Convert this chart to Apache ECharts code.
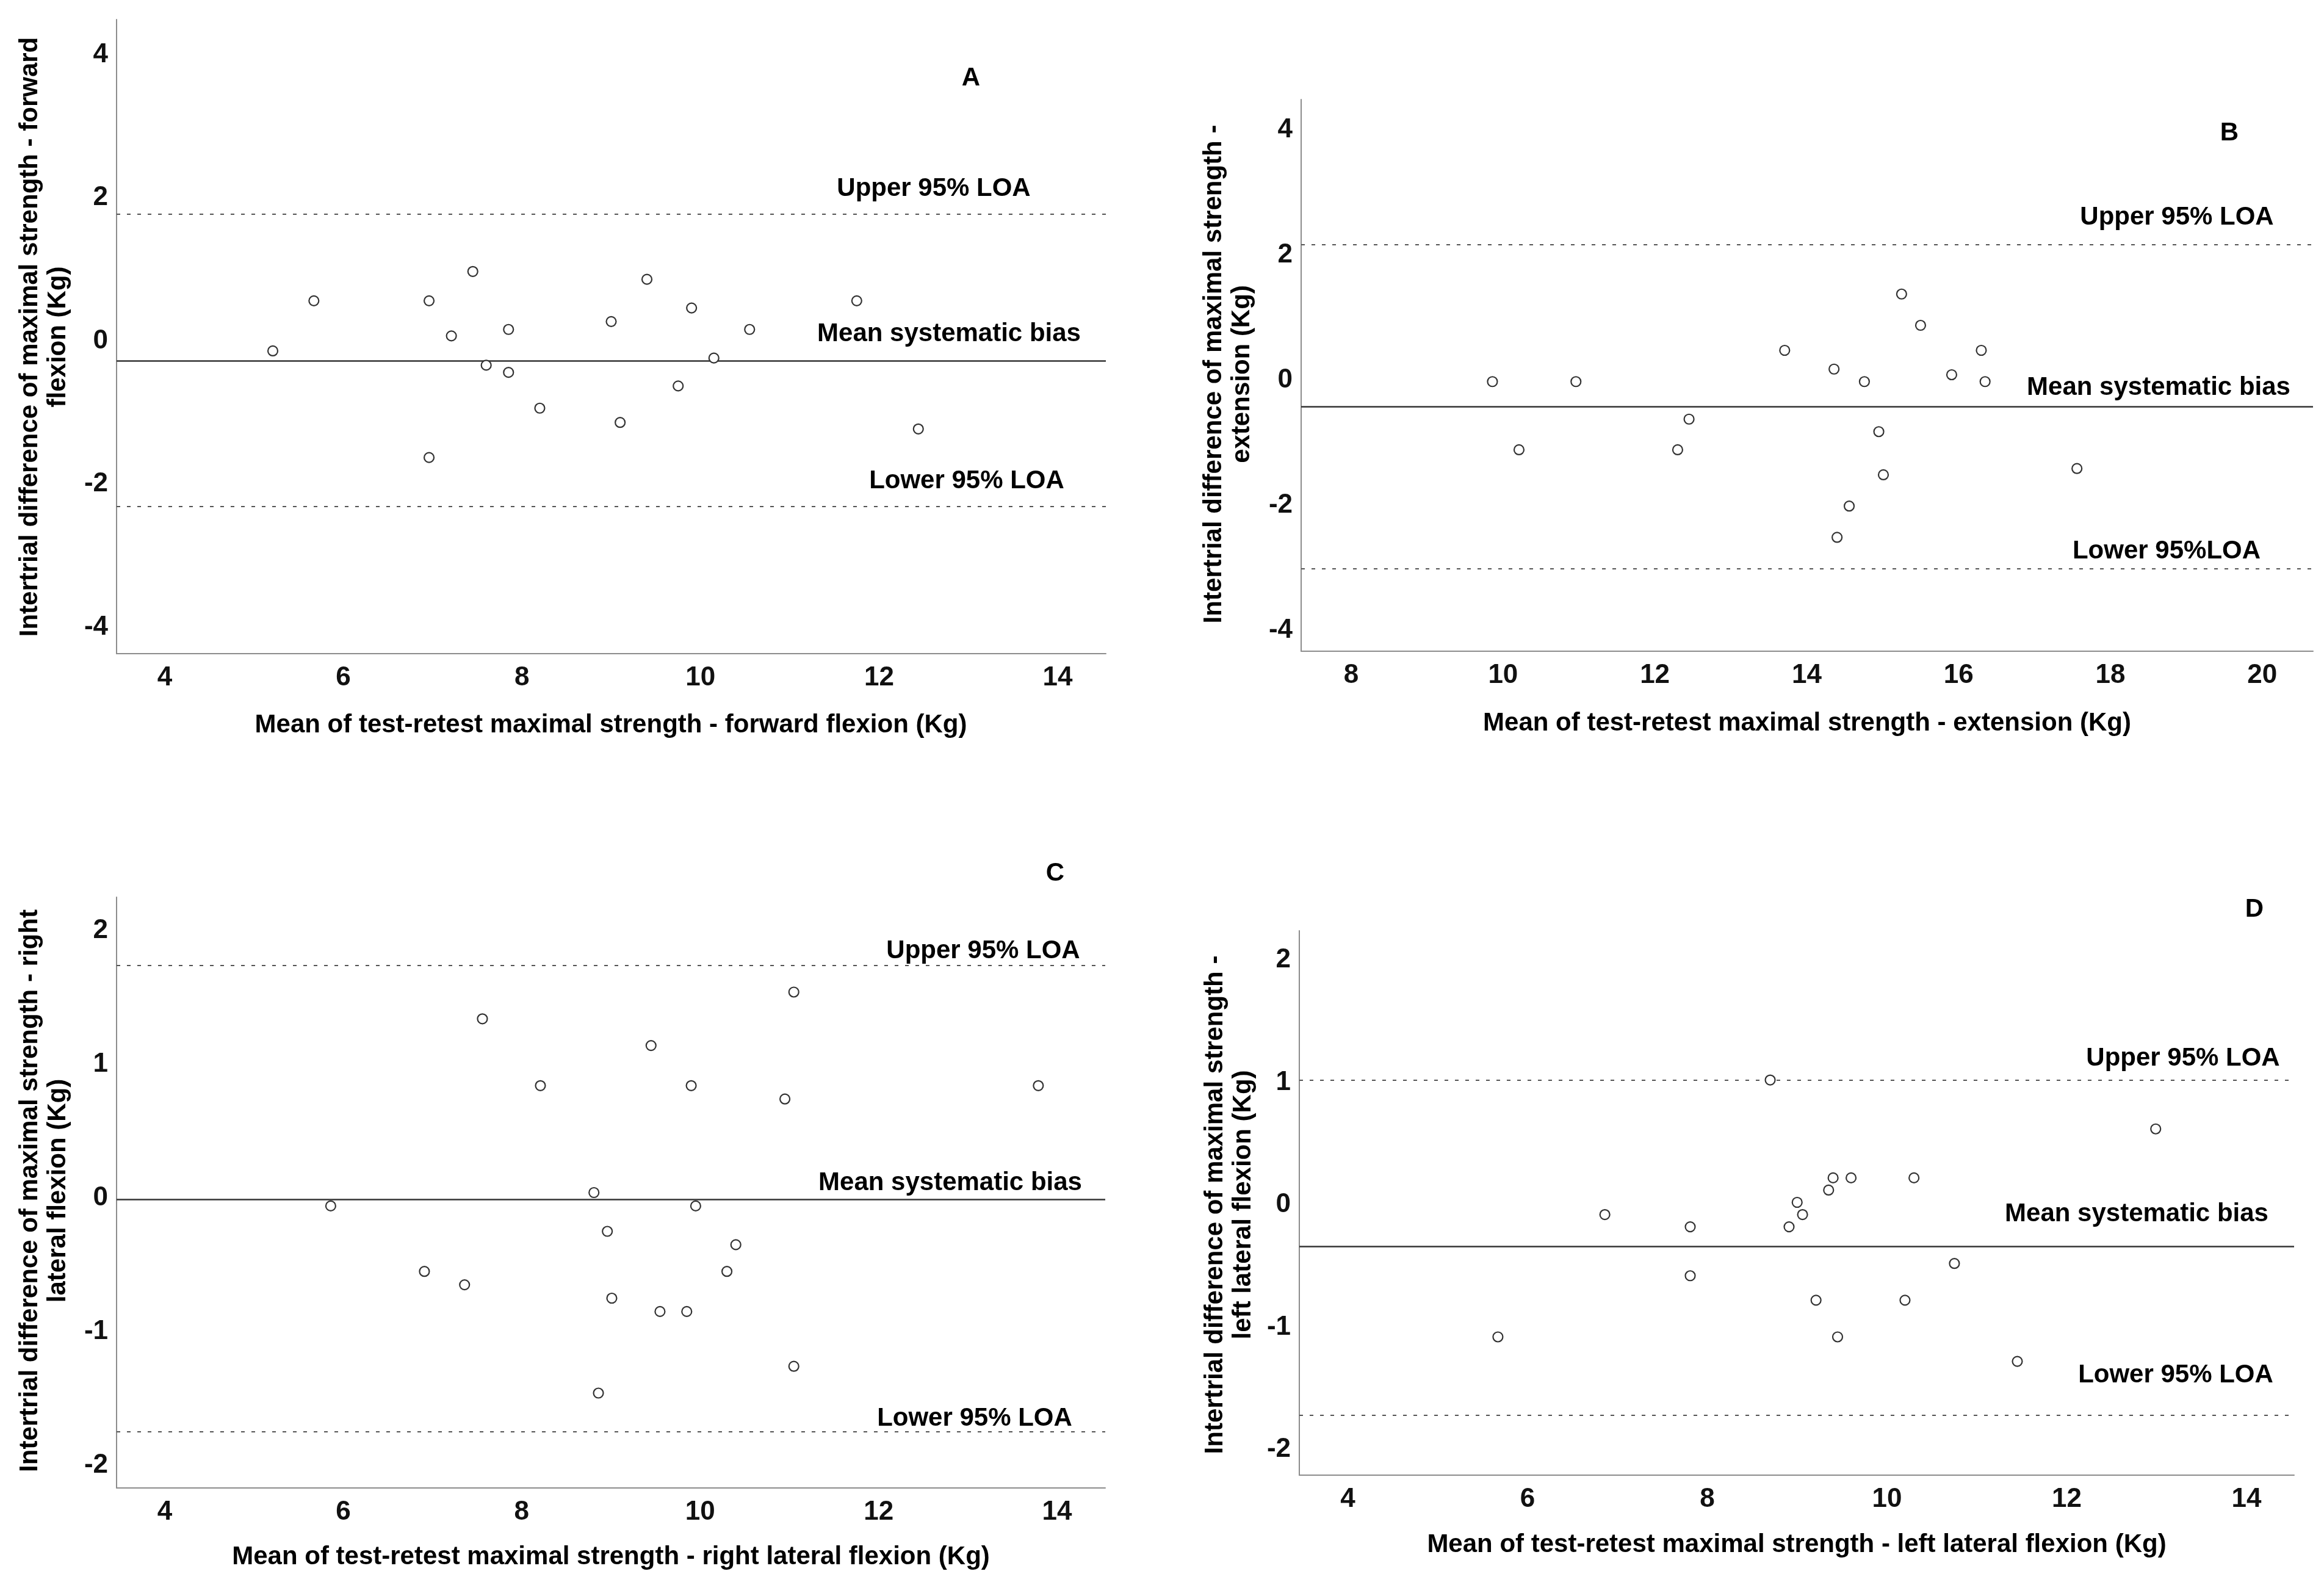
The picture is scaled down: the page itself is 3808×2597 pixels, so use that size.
<!DOCTYPE html>
<html>
<head>
<meta charset="utf-8">
<script src="https://cdn.jsdelivr.net/npm/echarts@6.0.0/dist/echarts.min.js"></script>
<style>
html,body{margin:0;padding:0;background:#fff;}
#chart{width:3808px;height:2597px;}
</style>
</head>
<body>
<div id="chart"></div>
<script>
// ---- Panel A: forward flexion ----
const aX = [5.21,5.67,6.96,6.96,7.21,7.45,7.60,7.85,7.85,8.20,9.00,9.10,9.40,9.75,9.90,10.15,10.55,11.75,12.44];
const aY = [-0.14,0.56,0.56,-1.63,0.07,0.97,-0.34,0.16,-0.44,-0.94,0.27,-1.14,0.86,-0.63,0.46,-0.24,0.16,0.56,-1.23];
const aLines = [1.77, -0.28, -2.31];          // upper LOA, mean bias, lower LOA
const aXTicks = [4,6,8,10,12,14];
const aYTicks = [-4,-2,0,2,4];
const aXRange = [3.46, 14.54];
const aYRange = [-4.37, 4.49];

// ---- Panel B: extension ----
const bX = [9.86,10.21,10.96,12.30,12.45,13.71,14.36,14.40,14.56,14.76,14.95,15.01,15.25,15.50,15.91,16.30,16.35,17.56];
const bY = [-0.02,-1.11,-0.02,-1.11,-0.62,0.48,0.18,-2.51,-2.01,-0.02,-0.82,-1.51,1.38,0.88,0.09,0.48,-0.02,-1.41];
const bLines = [2.17, -0.42, -3.01];
const bXTicks = [8,10,12,14,16,18,20];
const bYTicks = [-4,-2,0,2,4];
const bXRange = [7.34, 20.67];
const bYRange = [-4.33, 4.49];

// ---- Panel C: right lateral flexion ----
const cX = [5.86,6.91,7.36,7.56,8.21,8.81,8.86,8.96,9.01,9.45,9.55,9.85,9.90,9.95,10.30,10.40,10.95,11.05,11.05,13.79];
const cY = [-0.06,-0.55,-0.65,1.34,0.84,0.04,-1.46,-0.25,-0.75,1.14,-0.85,-0.85,0.84,-0.06,-0.55,-0.35,0.74,1.54,-1.26,0.84];
const cLines = [1.735, -0.01, -1.754];
const cXTicks = [4,6,8,10,12,14];
const cYTicks = [-2,-1,0,1,2];
const cXRange = [3.46, 14.54];
const cYRange = [-2.17, 2.25];

// ---- Panel D: left lateral flexion ----
const dX = [5.67,6.86,7.81,7.81,8.70,8.91,9.00,9.06,9.21,9.35,9.40,9.45,9.60,10.20,10.30,10.75,11.45,12.99];
const dY = [-1.08,-0.08,-0.18,-0.58,1.02,-0.18,0.02,-0.08,-0.78,0.12,0.22,-1.08,0.22,-0.78,0.22,-0.48,-1.28,0.62];
const dLines = [1.025, -0.343, -1.715];
const dXTicks = [4,6,8,10,12,14];
const dYTicks = [-2,-1,0,1,2];
const dXRange = [3.46, 14.53];
const dYRange = [-2.21, 2.24];

// ---- Texts ----
const panelLetters = ['A','B','C','D'];
const xTitles = [
  'Mean of test-retest maximal strength - forward flexion (Kg)',
  'Mean of test-retest maximal strength - extension (Kg)',
  'Mean of test-retest maximal strength - right lateral flexion (Kg)',
  'Mean of test-retest maximal strength - left lateral flexion (Kg)'
];
const yTitles = [
  'Intertrial difference of maximal strength - forward\nflexion (Kg)',
  'Intertrial difference of maximal strength -\nextension (Kg)',
  'Intertrial difference of maximal strength - right\nlateral flexion (Kg)',
  'Intertrial difference of maximal strength -\nleft lateral flexion (Kg)'
];
const upperLabels = ['Upper 95% LOA','Upper 95% LOA','Upper 95% LOA','Upper 95% LOA'];
const meanLabels = ['Mean systematic bias','Mean systematic bias','Mean systematic bias','Mean systematic bias'];
const lowerLabels = ['Lower 95% LOA','Lower 95%LOA','Lower 95% LOA','Lower 95% LOA'];

// ---- Layout (pixels) ----
const grids = [
  {left:191, top:32, width:1621, height:1039},
  {left:2132, top:163, width:1658, height:904},
  {left:191, top:1470, width:1620, height:968},
  {left:2129, top:1525, width:1630, height:892}
];
const textPos = [
  {letter:[1591,128], up:[1530,309], mean:[1555,547], low:[1584,788], xt:[1001,1188], yt:[72,552]},
  {letter:[3653,218], up:[3567,356], mean:[3537,635], low:[3550,903], xt:[2961,1185], yt:[2012,613]},
  {letter:[1729,1431], up:[1611,1558], mean:[1557,1938], low:[1597,2324], xt:[1001,2551], yt:[72,1951]},
  {letter:[3694,1490], up:[3577,1734], mean:[3501,1989], low:[3565,2253], xt:[2944,2531], yt:[2014,1974]}
];

const FONT = "'Liberation Sans', Arial, sans-serif";
const panels = [
  {x:aX, y:aY, lines:aLines, xt:aXTicks, yt:aYTicks, xr:aXRange, yr:aYRange},
  {x:bX, y:bY, lines:bLines, xt:bXTicks, yt:bYTicks, xr:bXRange, yr:bYRange},
  {x:cX, y:cY, lines:cLines, xt:cXTicks, yt:cYTicks, xr:cXRange, yr:cYRange},
  {x:dX, y:dY, lines:dLines, xt:dXTicks, yt:dYTicks, xr:dXRange, yr:dYRange}
];

const axisLine = {show:true, onZero:false, lineStyle:{color:'#8c8c8c', width:2}};
const labelStyle = {color:'#111', fontSize:44, fontWeight:'bold', fontFamily:FONT};

const option = {
  animation:false,
  backgroundColor:'#fff',
  grid: grids.map(g => Object.assign({containLabel:false}, g)),
  xAxis: panels.map((p,i) => ({
    type:'value', gridIndex:i, min:p.xr[0], max:p.xr[1],
    axisLine: axisLine, axisTick:{show:false}, splitLine:{show:false},
    axisLabel: Object.assign({customValues:p.xt, margin:18}, labelStyle)
  })),
  yAxis: panels.map((p,i) => ({
    type:'value', gridIndex:i, min:p.yr[0], max:p.yr[1],
    axisLine: axisLine, axisTick:{show:false}, splitLine:{show:false},
    axisLabel: Object.assign({customValues:p.yt, margin:14}, labelStyle)
  })),
  series: panels.map((p,i) => ({
    type:'scatter', xAxisIndex:i, yAxisIndex:i,
    symbol:'circle', symbolSize:16,
    itemStyle:{color:'#ffffff', borderColor:'#333', borderWidth:2.2, opacity:1},
    data: p.x.map((v,k) => [v, p.y[k]]),
    z:5,
    markLine:{
      silent:true, symbol:['none','none'], label:{show:false},
      data:[
        {yAxis:p.lines[0], lineStyle:{type:[6,11], color:'#555', width:2}},
        {yAxis:p.lines[1], lineStyle:{type:'solid', color:'#333', width:2.5}},
        {yAxis:p.lines[2], lineStyle:{type:[6,11], color:'#555', width:2}}
      ]
    }
  })),
  graphic: []
};

function txt(pos, text, rot){
  return {
    type:'text', x:pos[0], y:pos[1], rotation: rot || 0, silent:true,
    style:{text:text, font:'bold 42px ' + FONT, fill:'#000',
      textAlign:'center', textVerticalAlign:'middle', align:'center', verticalAlign:'middle', lineHeight:46}
  };
}
textPos.forEach((t,i) => {
  option.graphic.push(txt(t.letter, panelLetters[i]));
  option.graphic.push(txt(t.up, upperLabels[i]));
  option.graphic.push(txt(t.mean, meanLabels[i]));
  option.graphic.push(txt(t.low, lowerLabels[i]));
  option.graphic.push(txt(t.xt, xTitles[i]));
  option.graphic.push(txt(t.yt, yTitles[i], Math.PI/2));
});

const chart = echarts.init(document.getElementById('chart'), null, {renderer:'canvas'});
chart.setOption(option);
</script>
</body>
</html>
